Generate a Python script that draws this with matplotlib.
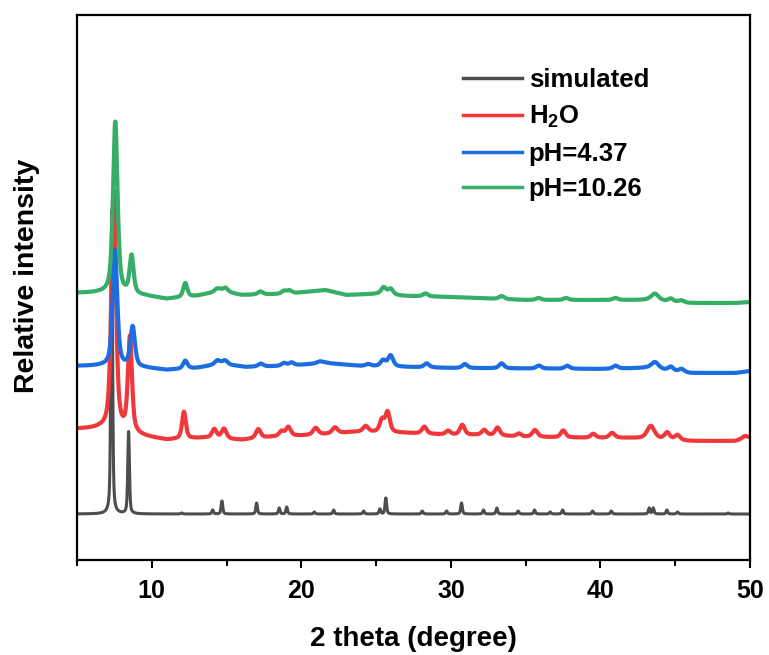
import numpy as np
import matplotlib
matplotlib.use("Agg")
import matplotlib.pyplot as plt

plt.rcParams['font.family'] = ['Liberation Sans', 'DejaVu Sans']
plt.rcParams['font.weight'] = 'bold'

# ---- series data (2theta in degrees, intensity in stacked plot units) ----
labels = ["simulated", "H$_\\mathregular{2}$O", "pH=4.37", "pH=10.26"]
colors = ["#4D4D4D", "#F0383C", "#1C6EE0", "#36AE68"]

# simulated pattern
sim_base_x = [5, 50]
sim_base_y = [46, 46]
sim_pos = [7.32, 8.45, 12.0, 14.07, 14.69, 17.01, 18.52, 19.02, 20.87, 22.16,
           24.16, 25.25, 25.65, 28.08, 29.71, 30.71, 32.18, 33.07, 34.50, 35.59,
           36.64, 37.47, 39.47, 40.72, 43.26, 43.53, 44.44, 45.15, 48.54]
sim_h = [303, 82, 1, 4, 13, 11, 6, 7, 2, 4,
         3, 5, 16, 3, 3, 11, 4, 6, 3, 4,
         2, 4, 3, 3, 6, 6, 4, 2, 1]
sim_w = 0.13

# soaked in water
h2o_base_x = [5, 6.5, 9.6, 11, 13.5, 16, 18, 21, 23.5, 27, 30, 32, 35, 40, 42, 46, 49, 50]
h2o_base_y = [131, 131, 123, 120, 122, 120, 123, 125, 128, 127, 125, 125, 123, 122, 122, 119, 119, 122]
h2o_pos = [7.45, 8.54, 12.15, 14.18, 14.83, 17.12, 18.68, 19.13, 20.96, 22.25,
           24.3, 25.39, 25.77, 28.22, 29.82, 30.76, 32.23, 33.12, 34.55, 35.62,
           37.51, 39.52, 40.78, 43.37, 44.46, 45.15, 49.65]
h2o_h = [240, 95, 27, 9, 10, 9, 5, 9, 7, 6,
         6, 12, 20, 7, 4, 10, 5, 8, 3, 7,
         7, 4, 5, 13, 7, 5, 3]
h2o_w = [0.36, 0.32, 0.3, 0.38, 0.38, 0.38, 0.38, 0.38, 0.42, 0.42,
         0.42, 0.36, 0.36, 0.38, 0.38, 0.38, 0.38, 0.38, 0.38, 0.42,
         0.38, 0.38, 0.42, 0.6, 0.42, 0.42, 0.45]

# pH = 4.37
ph4_base_x = [5, 6.5, 9.6, 11, 13, 14.6, 16.3, 19, 21.6, 24, 27, 30, 40, 43, 46, 49, 50]
ph4_base_y = [194, 194, 192, 190, 192, 196, 193, 194, 197, 194, 193, 192, 191, 192, 187, 187, 189]
ph4_pos = [7.54, 8.72, 12.24, 14.38, 14.9, 17.28, 18.84, 19.35, 21.25, 24.47,
           25.47, 25.97, 28.38, 30.94, 33.39, 35.88, 37.78, 41.01, 43.64, 44.7, 45.42]
ph4_h = [116, 40, 8, 4, 4, 3, 3, 3, 2, 2,
         6, 11, 4, 4, 5, 3, 3, 3, 7, 4, 3]
ph4_w = [0.36, 0.36, 0.34, 0.4, 0.4, 0.4, 0.4, 0.4, 0.5, 0.4,
         0.4, 0.4, 0.4, 0.4, 0.4, 0.4, 0.4, 0.4, 0.6, 0.4, 0.4]

# pH = 10.26
ph10_base_x = [5, 6.5, 9.6, 11, 13, 14.6, 16, 19, 21.6, 23, 25, 27, 30, 35, 43, 46, 49, 50]
ph10_base_y = [267, 267, 264, 261, 264, 269, 265, 266, 270, 265, 266, 264, 263, 260, 260, 257, 257, 258]
ph10_pos = [7.56, 8.65, 12.24, 14.38, 14.93, 17.26, 18.84, 19.2, 25.5, 25.97,
            28.3, 33.39, 35.85, 37.7, 41.0, 43.64, 44.7, 45.4]
ph10_h = [172, 38, 14, 3, 4, 3, 3, 3, 7, 6,
          3, 3, 2, 2, 2, 7, 3, 2]
ph10_w = [0.36, 0.32, 0.32, 0.4, 0.4, 0.4, 0.4, 0.4, 0.4, 0.4,
          0.4, 0.4, 0.4, 0.4, 0.4, 0.6, 0.4, 0.4]


def pattern(tt, base_x, base_y, pos, h, w, eta=0.6):
    """Baseline plus pseudo-Voigt reflections."""
    y = np.interp(tt, base_x, base_y)
    w = np.broadcast_to(np.asarray(w, float), (len(pos),))
    for p, a, fw in zip(pos, h, w):
        d = (tt - p) / fw
        lor = 1.0 / (1.0 + 4.0 * d ** 2)
        gau = np.exp(-4.0 * np.log(2) * d ** 2)
        y = y + a * (eta * lor + (1 - eta) * gau)
    return y


tt = np.linspace(5, 50, 4501)
curves = [
    pattern(tt, sim_base_x, sim_base_y, sim_pos, sim_h, sim_w, eta=0.5),
    pattern(tt, h2o_base_x, h2o_base_y, h2o_pos, h2o_h, h2o_w),
    pattern(tt, ph4_base_x, ph4_base_y, ph4_pos, ph4_h, ph4_w),
    pattern(tt, ph10_base_x, ph10_base_y, ph10_pos, ph10_h, ph10_w),
]
widths = [2.2, 3.0, 3.0, 3.0]

fig = plt.figure(figsize=(7.69, 6.55), dpi=100)
ax = fig.add_axes([77 / 769, 1 - 560 / 655, (750 - 77) / 769, (560 - 15) / 655])

for y, c, lab, lw in zip(curves, colors, labels, widths):
    ax.plot(tt, y, color=c, lw=lw, label=lab, solid_joinstyle='round')

ax.set_xlim(5, 50)
ax.set_ylim(0, 545)
ax.set_xticks([10, 20, 30, 40, 50])
ax.set_xticks([5, 15, 25, 35, 45], minor=True)
ax.set_yticks([])
ax.tick_params(axis='x', which='major', direction='out', length=6, width=1.5,
               labelsize=18, pad=8)
ax.tick_params(axis='x', which='minor', direction='out', length=4, width=1.5)
for s in ax.spines.values():
    s.set_linewidth(1.6)

ax.set_xlabel("2 theta (degree)", fontsize=20, fontweight='bold', labelpad=16)
ax.set_ylabel("Relative intensity", fontsize=20.5, fontweight='bold')
ax.yaxis.set_label_coords(-37 / 673, (560 - 276) / 545)

leg = ax.legend(loc='upper left', bbox_to_anchor=(453 / 769, 1 - 58 / 655),
                bbox_transform=fig.transFigure, frameon=False, fontsize=18.5,
                handlelength=2.3, handletextpad=0.25, labelspacing=0.45,
                borderaxespad=0)
for line in leg.get_lines():
    line.set_linewidth(2.5)

fig.savefig("out.png", dpi=100)
